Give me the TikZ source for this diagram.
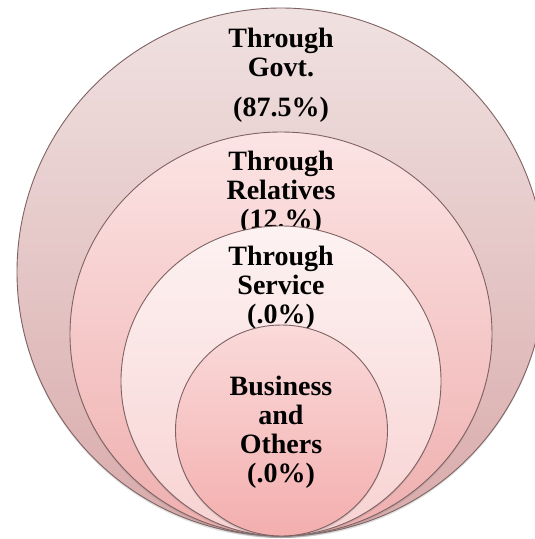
\documentclass[tikz,border=0pt]{standalone}
\usepackage{fontspec}
\setmainfont{Liberation Serif}
\usetikzlibrary{shadows}

\definecolor{rimgray}{HTML}{7F6262}
\definecolor{govtTop}{HTML}{F0E1E1}
\definecolor{govtBot}{HTML}{D9AAAA}
\definecolor{relTop}{HTML}{FCE4E4}
\definecolor{relBot}{HTML}{EFAEAE}
\definecolor{servTop}{HTML}{FDF2F2}
\definecolor{servBot}{HTML}{F8D2D2}
\definecolor{busTop}{HTML}{FADADA}
\definecolor{busBot}{HTML}{F4AEAE}

\tikzset{
  ring/.style={draw=rimgray, line width=0.9pt,
    drop shadow={shadow xshift=0pt, shadow yshift=-2pt, opacity=0.25}},
  lbl/.style={anchor=base, align=center, inner sep=0pt,
    font=\bfseries\fontsize{28}{29}\selectfont}
}

\begin{document}
\begin{tikzpicture}[x=1pt, y=-1pt]
            \useasboundingbox (0,0) rectangle (535,539);
            \fill[white] (0,0) rectangle (535,539);
            % outer ring
            \path[ring, top color=govtTop, bottom color=govtBot] (281,272) ellipse [x radius=264pt, y radius=264pt];
            \node[lbl] (govt) at (281,116) {Through\\Govt.\\[11pt](87.5\%)};
            % second ring
            \path[ring, top color=relTop, bottom color=relBot] (281,334) ellipse [x radius=211pt, y radius=202pt];
            \node[lbl] (relatives) at (281,228) {Through\\Relatives\\(12.\%)};
            % third ring
            \path[ring, top color=servTop, bottom color=servBot] (281,381) ellipse [x radius=160pt, y radius=155pt];
            \node[lbl] (service) at (281,323) {Through\\Service\\(.0\%)};
            % inner ring
            \path[ring, top color=busTop, bottom color=busBot] (281.5,430.5) ellipse [x radius=106pt, y radius=105.5pt];
            \node[lbl] (business) at (281,482) {Business\\and\\Others\\(.0\%)};
        \end{tikzpicture}
\end{document}
